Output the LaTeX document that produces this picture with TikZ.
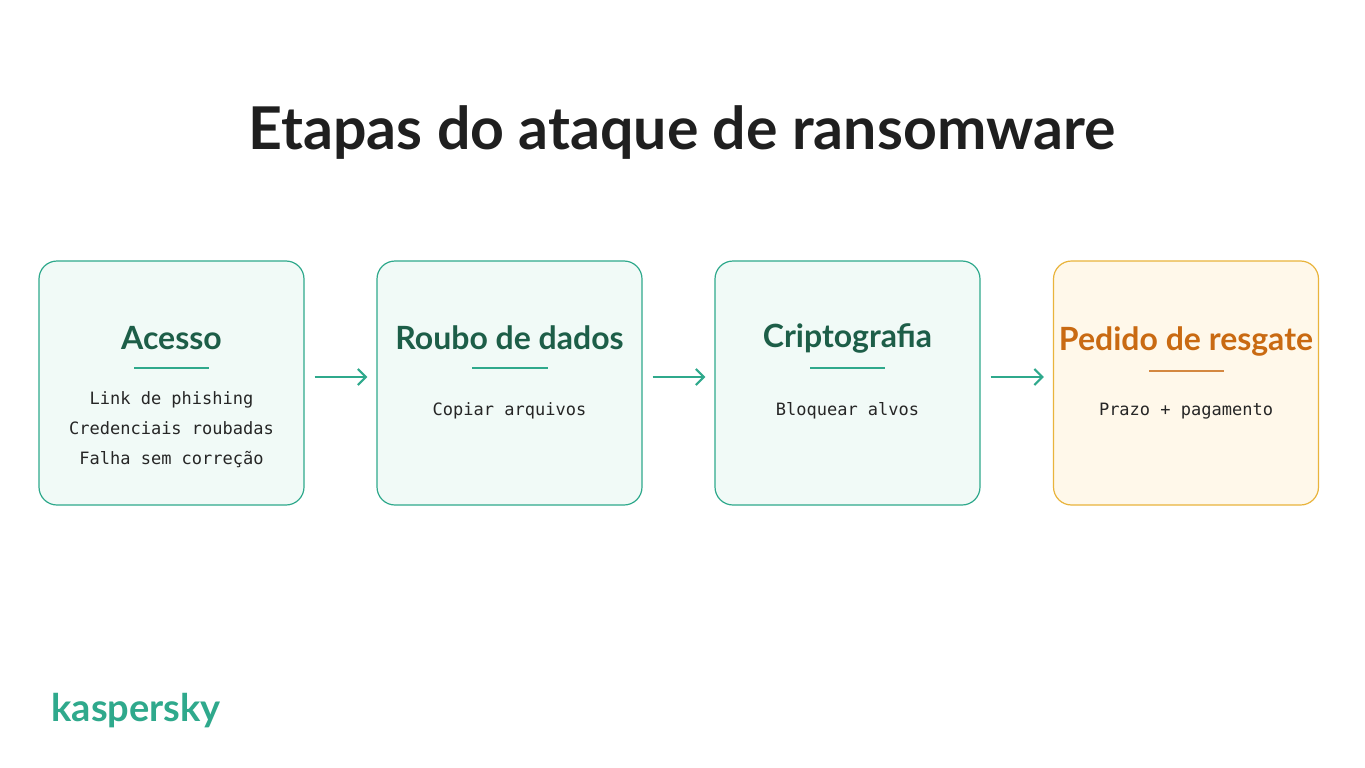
\documentclass[tikz,border=0pt]{standalone}
\usepackage{fontspec}
\setmainfont{Lato}
\setmonofont{DejaVu Sans Mono}
\usetikzlibrary{arrows.meta}
\definecolor{teal}{HTML}{2FA98C}
\definecolor{dgreen}{HTML}{1D5E48}
\definecolor{mint}{HTML}{F1FAF7}
\definecolor{org}{HTML}{E9B43C}
\definecolor{cream}{HTML}{FFF8EA}
\definecolor{dorg}{HTML}{C96A12}
\begin{document}
\begin{tikzpicture}[x=1pt,y=-1pt,
 box/.style={draw=teal,fill=mint,line width=1.2pt,rounded corners=18pt,minimum width=265pt,minimum height=244pt,inner sep=0pt},
 ttl/.style={font=\fontsize{32}{34}\selectfont\bfseries,text=dgreen},
 sub/.style={font=\ttfamily\fontsize{17}{30}\selectfont,text=black!85,align=center},
 ul/.style={draw=teal,line width=1.3pt},
 arr/.style={draw=teal,line width=2.2pt,-{Straight Barb[length=8pt,width=16pt]}}]
\useasboundingbox[fill=white] (0,0) rectangle (1365,768);
\node[font=\fontsize{59}{62}\selectfont\bfseries,text=black!88] (T) at (682,133) {Etapas do ataque de ransomware};
\node[box] (b1) at (171.5,383) {};
\node[box] (b2) at (509.5,383) {};
\node[box] (b3) at (847.5,383) {};
\node[box,draw=org,fill=cream] (b4) at (1186,383) {};
\node[ttl] (t1) at (171.5,338) {Acesso};
\node[ttl] (t2) at (509.5,338) {Roubo de dados};
\node[ttl] (t3) at (847.5,338) {Criptografia};
\node[ttl,text=dorg] (t4) at (1186,341) {Pedido de resgate};
\draw[ul] (134,368) -- (209,368);
\draw[ul] (472,368) -- (548,368);
\draw[ul] (810,368) -- (885,368);
\draw[ul,draw=dorg!80] (1149,371) -- (1224,371);
\node[sub] (s1) at (171.5,430) {Link de phishing\\Credenciais roubadas\\Falha sem correção};
\node[sub] (s2) at (509.5,411) {Copiar arquivos};
\node[sub] (s3) at (847.5,411) {Bloquear alvos};
\node[sub] (s4) at (1186,411) {Prazo + pagamento};
\draw[arr] ([xshift=10pt,yshift=6pt]b1.east) -- ([xshift=-9pt,yshift=6pt]b2.west);
\draw[arr] ([xshift=10pt,yshift=6pt]b2.east) -- ([xshift=-9pt,yshift=6pt]b3.west);
\draw[arr] ([xshift=10pt,yshift=6pt]b3.east) -- ([xshift=-9pt,yshift=6pt]b4.west);
\node[font=\fontsize{38}{40}\selectfont\bfseries,text=teal,anchor=west] (logo) at (48,711) {kaspersky};
\end{tikzpicture}
\end{document}
